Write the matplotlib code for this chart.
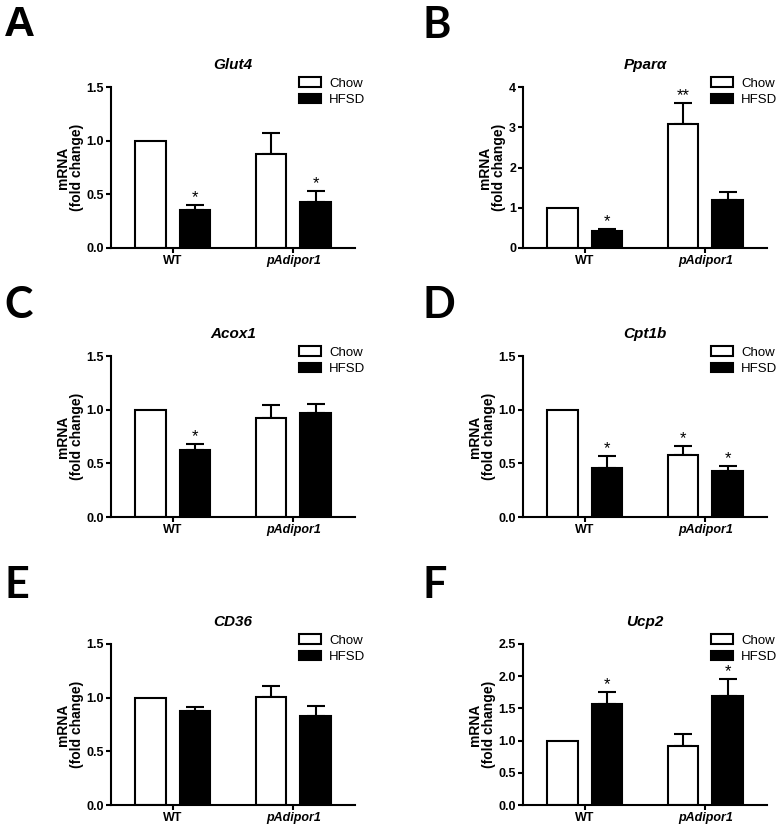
"""
Expressao de mRNA (fold change) - Chow vs HFSD, WT e pAdipor1.
Seis paineis (A-F) em grade 3x2, salva out.png.
"""

import matplotlib.pyplot as plt
from matplotlib.patches import Patch

plt.rcParams["font.family"] = ["Liberation Sans", "DejaVu Sans"]

# ============================================================
# DADOS
# ============================================================
GRUPOS = ["WT", "pAdipor1"]
LETRAS = ["A", "B", "C", "D", "E", "F"]
GENES = ["Glut4", "Ppar\u03b1", "Acox1", "Cpt1b", "CD36", "Ucp2"]

CHOW_MEDIA = [[1.0, 0.88], [1.0, 3.09], [1.0, 0.92], [1.0, 0.576], [1.0, 1.01], [1.0, 0.92]]
CHOW_SEM = [[0, 0.19], [0, 0.52], [0, 0.12], [0, 0.085], [0, 0.10], [0, 0.18]]
HFSD_MEDIA = [[0.35, 0.43], [0.43, 1.20], [0.62, 0.97], [0.455, 0.433], [0.88, 0.83], [1.57, 1.69]]
HFSD_SEM = [[0.05, 0.10], [0.04, 0.20], [0.06, 0.08], [0.115, 0.045], [0.03, 0.09], [0.18, 0.27]]

SIG_CHOW = [["", ""], ["", "**"], ["", ""], ["", "*"], ["", ""], ["", ""]]
SIG_HFSD = [["*", "*"], ["*", ""], ["*", ""], ["*", "*"], ["", ""], ["*", "*"]]

YTICKS = [
    [0, 0.5, 1.0, 1.5],
    [0, 1, 2, 3, 4],
    [0, 0.5, 1.0, 1.5],
    [0, 0.5, 1.0, 1.5],
    [0, 0.5, 1.0, 1.5],
    [0, 0.5, 1.0, 1.5, 2.0, 2.5],
]
YTICKLABELS = [
    ["0.0", "0.5", "1.0", "1.5"],
    ["0", "1", "2", "3", "4"],
    ["0.0", "0.5", "1.0", "1.5"],
    ["0.0", "0.5", "1.0", "1.5"],
    ["0.0", "0.5", "1.0", "1.5"],
    ["0.0", "0.5", "1.0", "1.5", "2.0", "2.5"],
]

# ============================================================
# LAYOUT
# ============================================================
W, H = 778, 827
fig = plt.figure(figsize=(W / 100, H / 100), dpi=100)

ESQ = [111, 523]          # borda esquerda dos eixos (px)
BASE = [248, 517, 805]    # linha de base dos eixos (px, a partir do topo)
LARG, ALT = 244, 161
DESL, LB = 0.186, 0.255   # deslocamento e largura das barras

LW = 1.5

for i in range(6):
    lin, col = divmod(i, 2)
    x0, yb = ESQ[col], BASE[lin]
    ax = fig.add_axes([x0 / W, 1 - yb / H, LARG / W, ALT / H])

    pos = [0, 1]
    xc = [p - DESL for p in pos]
    xh = [p + DESL for p in pos]
    ax.bar(xc, CHOW_MEDIA[i], width=LB, color="white", edgecolor="black", linewidth=LW, zorder=2)
    ax.bar(xh, HFSD_MEDIA[i], width=LB, color="black", edgecolor="black", linewidth=LW, zorder=2)

    for xs, med, sem, sig in [(xc, CHOW_MEDIA[i], CHOW_SEM[i], SIG_CHOW[i]),
                              (xh, HFSD_MEDIA[i], HFSD_SEM[i], SIG_HFSD[i])]:
        for x, m, s, st in zip(xs, med, sem, sig):
            if s > 0:
                ax.errorbar(x, m, yerr=[[0], [s]], fmt="none", ecolor="black",
                            elinewidth=LW, capsize=6.5, capthick=LW, zorder=1)
            if st:
                ax.annotate(st, (x, m + s), xytext=(0, 0), textcoords="offset points",
                            ha="center", va="bottom", fontsize=12)

    ax.set_xlim(-0.51, 1.51)
    ax.set_ylim(0, YTICKS[i][-1])
    ax.set_yticks(YTICKS[i])
    ax.set_yticklabels(YTICKLABELS[i], fontsize=9, fontweight="bold")
    ax.set_xticks(pos)
    ax.set_xticklabels(GRUPOS, fontsize=9, fontweight="bold")
    ax.get_xticklabels()[1].set_style("italic")

    for lado in ["top", "right"]:
        ax.spines[lado].set_visible(False)
    for lado in ["left", "bottom"]:
        ax.spines[lado].set_linewidth(LW)
    ax.tick_params(axis="both", direction="out", length=3.5, width=LW, pad=1.5)

    ax.set_ylabel("mRNA\n(fold change)", fontsize=10, fontweight="bold",
                  labelpad=2, linespacing=1.0)
    ax.set_title(GENES[i], fontsize=11, fontweight="bold", style="italic", pad=13)

    alcas = [Patch(facecolor="white", edgecolor="black", linewidth=LW),
             Patch(facecolor="black", edgecolor="black", linewidth=LW)]
    ax.legend(alcas, ["Chow", "HFSD"], loc="upper left", bbox_to_anchor=(0.77, 1.06),
              frameon=False, fontsize=9.5, borderpad=0, borderaxespad=0,
              handlelength=1.7, handleheight=0.7, handletextpad=0.6, labelspacing=0.35)

    # letra do painel
    fonte = ["Liberation Sans"] if i == 0 else ["Lato", "Liberation Sans"]
    fig.text((4 if col == 0 else 423) / W, 1 - (lin * 280 + 5) / H, LETRAS[i],
             fontsize=31, fontweight="bold", va="top", ha="left", family=fonte)

plt.savefig("out.png", dpi=100)
plt.close()
